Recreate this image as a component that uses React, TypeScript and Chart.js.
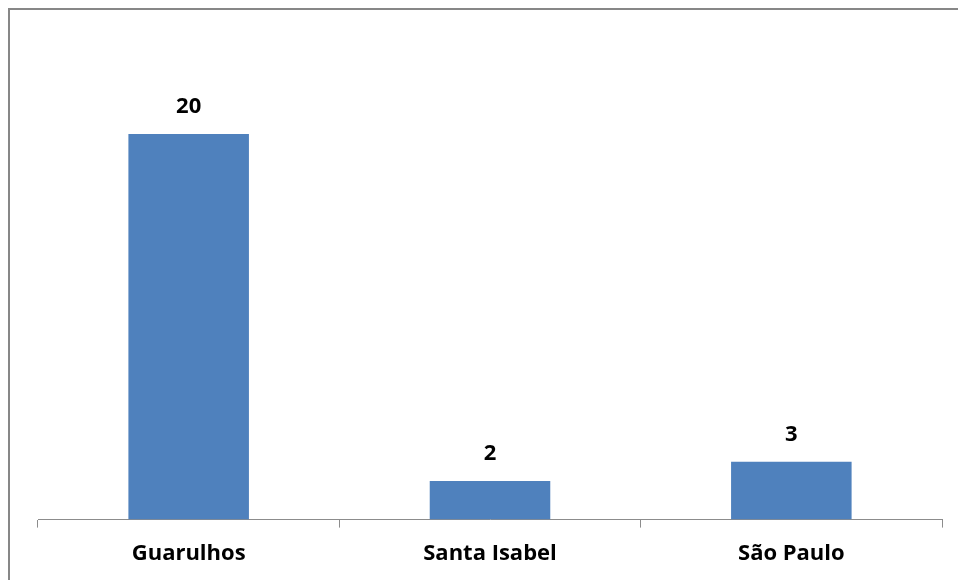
import React, { useEffect, useRef } from "react";
import { Chart, registerables } from "chart.js";

Chart.register(...registerables);

const categories = ["Guarulhos", "Santa Isabel", "São Paulo"];
const values = [20, 2, 3];
const yMax = 24;

const FONT = "'Open Sans'";
const FONT_SIZE = 22;

const frame = {
  id: "frame",
  beforeDraw(chart: any) {
    const ctx = chart.ctx;
    ctx.save();
    ctx.fillStyle = "#ffffff";
    ctx.fillRect(0, 0, chart.width, chart.height);
    ctx.strokeStyle = "#878787";
    ctx.lineWidth = 2;
    ctx.strokeRect(9, 9, chart.width + 20, chart.height + 20);
    ctx.restore();
  },
};

const valueLabels = {
  id: "valueLabels",
  afterDatasetsDraw(chart: any) {
    const ctx = chart.ctx;
    const meta = chart.getDatasetMeta(0);
    ctx.save();
    ctx.font = `bold ${FONT_SIZE}px ${FONT}`;
    ctx.fillStyle = "#000000";
    ctx.textAlign = "center";
    ctx.textBaseline = "middle";
    meta.data.forEach((bar: any, i: number) => {
      ctx.fillText(String(values[i]), bar.x, bar.y - 27);
    });
    ctx.restore();
  },
};

export default function App() {
  const ref = useRef<HTMLCanvasElement | null>(null);
  useEffect(() => {
    if (!ref.current) return;
    const chart = new Chart(ref.current, {
      type: "bar",
      data: {
        labels: categories,
        datasets: [
          {
            data: values,
            backgroundColor: "#4F81BD",
            borderWidth: 0,
            barPercentage: 0.4,
            categoryPercentage: 1,
          },
        ],
      },
      options: {
        animation: false,
        responsive: false,
        maintainAspectRatio: false,
        layout: { padding: { left: 38, right: 16, top: 57, bottom: 0 } },
        plugins: { legend: { display: false }, tooltip: { enabled: false } },
        scales: {
          x: {
            grid: {
              drawOnChartArea: false,
              drawTicks: true,
              tickLength: 8,
              color: "#8c8c8c",
              lineWidth: 1,
            },
            border: { display: true, color: "#8c8c8c", width: 1 },
            ticks: {
              color: "#000000",
              padding: 13,
              font: { family: FONT, size: FONT_SIZE, weight: "bold" },
              maxRotation: 0,
            },
          },
          y: { display: false, min: 0, max: yMax },
        },
      },
      plugins: [frame, valueLabels],
    });
    return () => chart.destroy();
  }, []);
  return (
    <div style={{ position: "fixed", left: 0, top: 0, width: 958, height: 580 }}>
      <canvas ref={ref} width={958} height={580} style={{ width: 958, height: 580, display: "block" }} />
    </div>
  );
}
